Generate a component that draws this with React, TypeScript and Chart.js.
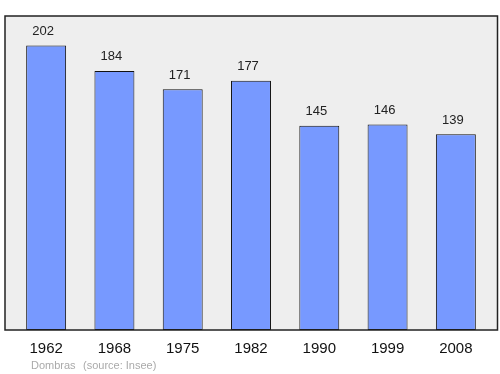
import React, { useEffect, useRef } from "react";
import { Chart, registerables } from "chart.js";

Chart.register(...registerables);

const years = ["1962", "1968", "1975", "1982", "1990", "1999", "2008"];
const population = [202, 184, 171, 177, 145, 146, 139];
const footerName = "Dombras";
const footerSource = "(source: Insee)";

const FONT = "'Liberation Sans', Arial, sans-serif";

const framePlugin = {
  id: "frame",
  beforeDraw(chart: any) {
    const { ctx, chartArea } = chart;
    const x0 = chartArea.left - 7;
    const x1 = chartArea.right + 7.5;
    const y0 = chartArea.top;
    const y1 = chartArea.bottom;
    ctx.save();
    ctx.fillStyle = "#eeeeee";
    ctx.fillRect(x0, y0, x1 - x0, y1 - y0);
    ctx.restore();
  },
  afterDatasetsDraw(chart: any) {
    const { ctx, chartArea } = chart;
    const x0 = chartArea.left - 7;
    const x1 = chartArea.right + 7.5;
    const y0 = chartArea.top;
    const y1 = chartArea.bottom;
    ctx.save();
    ctx.strokeStyle = "#222222";
    ctx.lineWidth = 1.5;
    ctx.strokeRect(x0, y0, x1 - x0, y1 - y0);
    // value labels
    ctx.fillStyle = "#222222";
    ctx.font = `13px ${FONT}`;
    ctx.textAlign = "center";
    ctx.textBaseline = "middle";
    const meta = chart.getDatasetMeta(0);
    meta.data.forEach((bar: any, i: number) => {
      ctx.fillText(String(chart.data.datasets[0].data[i]), bar.x - 3, bar.y - 14);
    });
    // footer
    ctx.fillStyle = "#aaaaaa";
    ctx.font = `11px ${FONT}`;
    ctx.textAlign = "left";
    ctx.fillText(footerName, 31, 366);
    ctx.fillText(footerSource, 83, 366);
    ctx.restore();
  },
};

export default function App() {
  const ref = useRef<HTMLCanvasElement>(null);
  useEffect(() => {
    document.body.style.margin = "0";
    const chart = new Chart(ref.current!, {
      type: "bar",
      data: {
        labels: years,
        datasets: [
          {
            data: population,
            backgroundColor: "#7799ff",
            borderColor: "#111111",
            borderWidth: 1,
            borderSkipped: false,
            barPercentage: 0.585,
            categoryPercentage: 1,
          },
        ],
      },
      options: {
        responsive: false,
        animation: false,
        events: [],
        layout: { padding: { left: 12, right: 10, top: 16, bottom: 0 } },
        plugins: { legend: { display: false }, tooltip: { enabled: false } },
        scales: {
          x: {
            grid: { display: false },
            border: { display: false },
            ticks: {
              color: "#111111",
              font: { family: FONT, size: 15 },
              padding: 2,
              maxRotation: 0,
            },
            afterFit(scale: any) {
              scale.height = 44;
            },
          },
          y: { display: false, min: 0, max: 223 },
        },
      },
      plugins: [framePlugin],
    });
    return () => chart.destroy();
  }, []);
  return <canvas ref={ref} width={500} height={374} style={{ display: "block" }} />;
}
